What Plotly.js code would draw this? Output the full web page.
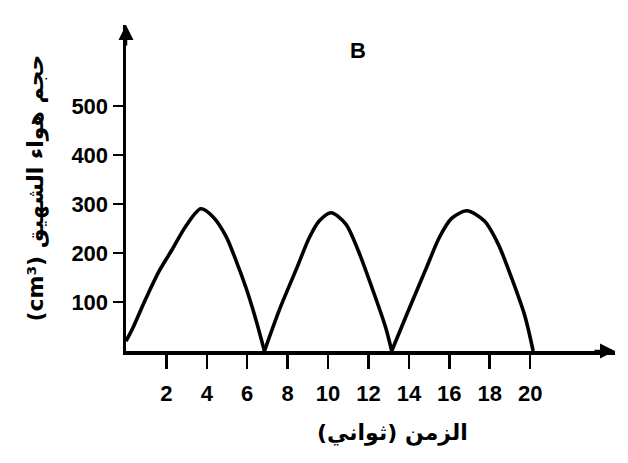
<!DOCTYPE html>
<html>
<head>
<meta charset="utf-8">
<script src="https://cdn.plot.ly/plotly-3.0.1.min.js"></script>
<style>html,body{margin:0;padding:0;background:#fff;}#chart{width:628px;height:463px;}</style>
</head>
<body>
<div id="chart"></div>
<script>
// Time (seconds) and inhaled air volume (cm³).
// null separates the three breaths so the minima stay sharp.
const time = [0, 0.35, 0.95, 1.6, 2.3, 2.95, 3.7, 4.3, 4.95, 5.45, 5.93, 6.4, 6.85, null,
              6.85, 7.6, 8.44, 9.07, 9.56, 10.15, 10.88, 11.5, 12.2, 12.85, 13.15, null,
              13.15, 13.95, 14.85, 15.5, 16.1, 16.87, 17.74, 18.42, 19.1, 19.75, 20.15];
const volume = [20, 48, 104, 160, 208, 254, 290, 274, 234, 184, 130, 68, 0, null,
                0, 85, 168, 231, 265, 282, 259, 204, 126, 48, 0, null,
                0, 80, 168, 231, 270, 286, 265, 218, 147, 70, 0];
const xTicks = [2, 4, 6, 8, 10, 12, 14, 16, 18, 20];
const yTicks = [100, 200, 300, 400, 500];
const chartTitle = 'B';
const xTitle = '\u200Fالزمن (ثواني)\u200F';
const yTitle = '(cm³) حجم هواء الشهيق';

const tickFont = {family: 'Liberation Sans, Arial, sans-serif', size: 22, color: '#000', weight: 'bold'};
const arFont = {family: 'DejaVu Sans, Noto Sans, sans-serif', size: 22, color: '#000', weight: 'bold'};

const trace = {
  x: time, y: volume, type: 'scatter', mode: 'lines', connectgaps: false,
  line: {color: '#000', width: 3.6, shape: 'spline', smoothing: 0.8},
  hoverinfo: 'skip', cliponaxis: false
};

const layout = {
  width: 628, height: 463,
  margin: {l: 126, r: 13, t: 25, b: 112},
  paper_bgcolor: '#fff', plot_bgcolor: '#fff',
  showlegend: false,
  xaxis: {
    range: [0, 24.2], tickvals: xTicks, ticktext: xTicks.map(String),
    ticks: 'outside', ticklen: 14, tickwidth: 2.5, tickcolor: '#000',
    ticklabelstandoff: 6,
    showline: true, linewidth: 3.5, linecolor: '#000',
    showgrid: false, zeroline: false, tickfont: tickFont, fixedrange: true
  },
  yaxis: {
    range: [0, 665], tickvals: yTicks, ticktext: yTicks.map(String),
    ticks: 'outside', ticklen: 10, tickwidth: 2.5, tickcolor: '#000',
    showline: true, linewidth: 3.5, linecolor: '#000',
    showgrid: false, zeroline: false, tickfont: tickFont, fixedrange: true
  },
  annotations: [
    {xref: 'paper', yref: 'paper', x: 0.474, y: 0.923, xanchor: 'center', yanchor: 'middle',
     text: chartTitle, showarrow: false,
     font: {family: 'Liberation Sans, Arial, sans-serif', size: 22, color: '#000', weight: 'bold'}},
    {xref: 'paper', yref: 'paper', x: 0.546, y: -0.252, xanchor: 'center', yanchor: 'middle',
     text: xTitle, showarrow: false, font: arFont},
    {xref: 'paper', yref: 'paper', x: -0.185, y: 0.5, xanchor: 'center', yanchor: 'middle',
     text: yTitle, showarrow: false, textangle: -90, font: arFont},
    {xref: 'paper', yref: 'paper', x: 0, y: 1, ax: 0, ay: 22, text: '', showarrow: true,
     arrowhead: 2, arrowsize: 1.2, arrowwidth: 2.5, arrowcolor: '#000'},
    {xref: 'paper', yref: 'paper', x: 1, y: 0, ax: -22, ay: 0, text: '', showarrow: true,
     arrowhead: 2, arrowsize: 1.2, arrowwidth: 2.5, arrowcolor: '#000'}
  ]
};

Plotly.newPlot('chart', [trace], layout, {displayModeBar: false, staticPlot: true});
</script>
</body>
</html>
